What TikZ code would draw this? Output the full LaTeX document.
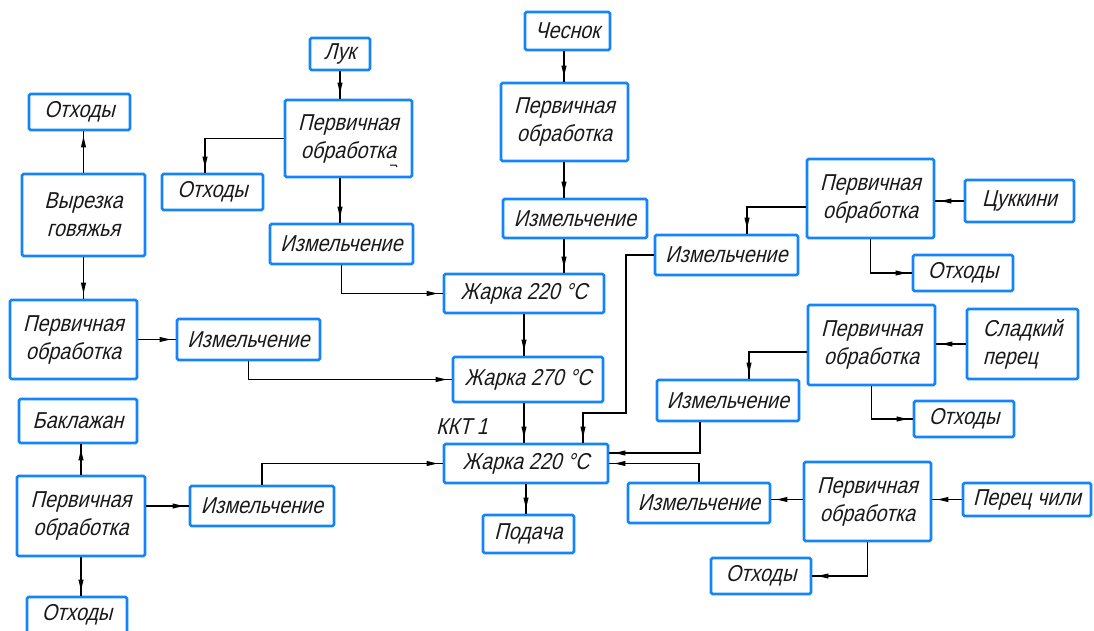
\documentclass[tikz,border=0pt]{standalone}
\usepackage{fontspec}
\newfontfamily\gost[FakeSlant=0.25,FakeStretch=0.86]{Liberation Sans}
\usetikzlibrary{arrows.meta,decorations.markings}
\definecolor{boxblue}{RGB}{20,132,250}
\begin{document}
\begin{tikzpicture}[x=1pt,y=-1pt,
  box/.style={draw=boxblue, line width=2.6pt, rounded corners=1.5pt, inner sep=0pt,
    align=center, text=black!90, font=\gost\fontsize{23}{28}\selectfont},
  flow/.style={draw=black, line width=1.2pt, postaction={decorate},
    decoration={markings, mark=at position -5pt with {\arrow{Triangle[length=11pt,width=4.8pt]}}}},
]
\useasboundingbox (0,0) rectangle (1094,630);
\clip (0,0) rectangle (1094,630);

% beef branch
\node[box, minimum width=101pt, minimum height=36pt] (wasteA) at (79.5,112) {Отходы};
\node[box, minimum width=123pt, minimum height=82pt] (beef) at (83.5,215) {Вырезка\\говяжья};
\node[box, minimum width=127pt, minimum height=79pt] (procBeef) at (73.5,339.5) {Первичная\\обработка};
\node[box, minimum width=143pt, minimum height=41pt] (chopBeef) at (248.5,339.5) {Измельчение};

% eggplant branch
\node[box, minimum width=118pt, minimum height=44pt] (eggplant) at (78,421) {Баклажан};
\node[box, minimum width=128pt, minimum height=80pt] (procEgg) at (81,516) {Первичная\\обработка};
\node[box, minimum width=144pt, minimum height=40pt] (chopEgg) at (262,506) {Измельчение};
\node[box, minimum width=100pt, minimum height=36pt] (wasteEgg) at (77,615) {Отходы};

% onion branch
\node[box, minimum width=60pt, minimum height=32pt] (onion) at (340,54) {Лук};
\node[box, minimum width=127pt, minimum height=77pt] (procOnion) at (348.5,138.5) {Первичная\\обработка};
\node[box, minimum width=101pt, minimum height=36pt] (wasteOnion) at (212.5,192) {Отходы};
\node[box, minimum width=143pt, minimum height=40pt] (chopOnion) at (341.5,244) {Измельчение};

% garlic branch
\node[box, minimum width=85pt, minimum height=38pt] (garlic) at (567.5,31) {Чеснок};
\node[box, minimum width=127pt, minimum height=78pt] (procGarlic) at (564.5,122) {Первичная\\обработка};
\node[box, minimum width=144pt, minimum height=39pt] (chopGarlic) at (575,218.5) {Измельчение};

% frying and serving
\node[box, minimum width=160pt, minimum height=39pt] (fry1) at (524,293.5) {Жарка 220 °C};
\node[box, minimum width=150pt, minimum height=45pt] (fry2) at (528,379.5) {Жарка 270 °C};
\node[box, minimum width=164pt, minimum height=39pt] (fry3) at (526,463.5) {Жарка 220 °C};
\node[box, minimum width=91pt, minimum height=38pt] (serve) at (528.5,534) {Подача};
\node[text=black!90, font=\gost\fontsize{23}{28}\selectfont] (ccp) at (462,427) {ККТ 1};

% zucchini branch
\node[box, minimum width=127pt, minimum height=79pt] (procZuc) at (870.5,198.5) {Первичная\\обработка};
\node[box, minimum width=109pt, minimum height=42pt] (zucchini) at (1019.5,201) {Цуккини};
\node[box, minimum width=143pt, minimum height=40pt] (chopZuc) at (726.5,255) {Измельчение};
\node[box, minimum width=100pt, minimum height=36pt] (wasteZuc) at (963,273) {Отходы};

% sweet pepper branch
\node[box, minimum width=127pt, minimum height=80pt] (procPep) at (871.5,345) {Первичная\\обработка};
\node[box, minimum width=111pt, minimum height=70pt, align=left] (pepper) at (1022.5,344) {Сладкий\\перец};
\node[box, minimum width=142pt, minimum height=41pt] (chopPep) at (728,400.5) {Измельчение};
\node[box, minimum width=100pt, minimum height=36pt] (wastePep) at (964,419) {Отходы};

% chili branch
\node[box, minimum width=127pt, minimum height=79pt] (procChili) at (867.5,501.5) {Первичная\\обработка};
\node[box, minimum width=128pt, minimum height=33pt] (chili) at (1027,499.5) {Перец чили};
\node[box, minimum width=142pt, minimum height=40pt] (chopChili) at (699,503) {Измельчение};
\node[box, minimum width=100pt, minimum height=36pt] (wasteChili) at (761,576) {Отходы};

% small stroke under the onion box text
\draw[line width=1pt] (390,165) -- (396,165) -- (397,167);

% turning points of the connectors
\coordinate (onionTurn) at (205,138);
\coordinate (garlicLine) at (564,0);
\coordinate (zucSplit) at (747,207);
\coordinate (zucRun) at (626,413);
\coordinate (zucDrop) at (583,413);
\coordinate (pepSplit) at (749,352);
\coordinate (pepJoin) at (700,453);

% beef
\draw[flow] (beef.north) -- (beef.north |- wasteA.south);
\draw[flow] (beef.south) -- (beef.south |- procBeef.north);
\draw[flow] (procBeef.east) -- (procBeef.east -| chopBeef.west);
\draw[flow] (chopBeef.south) |- (fry2.west);

% eggplant
\draw[flow] (procEgg.north) -- (procEgg.north |- eggplant.south);
\draw[flow] (procEgg.south) -- (procEgg.south |- wasteEgg.north);
\draw[flow] (chopEgg.west -| procEgg.east) -- (chopEgg.west);
\draw[flow] (chopEgg.north) |- (fry3.west);

% onion
\draw[flow] (onion.south) -- (onion.south |- procOnion.north);
\draw[flow] (procOnion.west) -| (onionTurn |- wasteOnion.north);
\draw[flow] (onion.south |- procOnion.south) -- (onion.south |- chopOnion.north);
\draw[flow] (chopOnion.south) |- (fry1.west);

% garlic
\draw[flow] (garlicLine |- garlic.south) -- (garlicLine |- procGarlic.north);
\draw[flow] (garlicLine |- procGarlic.south) -- (garlicLine |- chopGarlic.north);
\draw[flow] (garlicLine |- chopGarlic.south) -- (garlicLine |- fry1.north);

% frying chain
\draw[flow] (fry1.south) -- (fry1.south |- fry2.north);
\draw[flow] (fry1.south |- fry2.south) -- (fry1.south |- fry3.north);
\draw[flow] (fry3.south) -- (fry3.south |- serve.north);

% zucchini
\draw[flow] (zucchini.west) -- (zucchini.west -| procZuc.east);
\draw[flow] (zucSplit -| procZuc.west) -| (zucSplit |- chopZuc.north);
\draw[flow] (procZuc.south) |- (wasteZuc.west);
\draw[flow] (chopZuc.west) -| (zucRun) -- (zucDrop) -- (zucDrop |- fry3.north);

% sweet pepper
\draw[flow] (pepper.west) -- (pepper.west -| procPep.east);
\draw[flow] (pepSplit -| procPep.west) -| (pepSplit |- chopPep.north);
\draw[flow] (procPep.south) |- (wastePep.west);
\draw[flow] (pepJoin |- chopPep.south) |- (pepJoin -| fry3.east);

% chili
\draw[flow] (chili.west) -- (chili.west -| procChili.east);
\draw[flow] (chili.west -| procChili.west) -- (chili.west -| chopChili.east);
\draw[flow] (procChili.south) |- (wasteChili.east);
\draw[flow] (chopChili.north) |- (fry3.east);
\end{tikzpicture}
\end{document}
